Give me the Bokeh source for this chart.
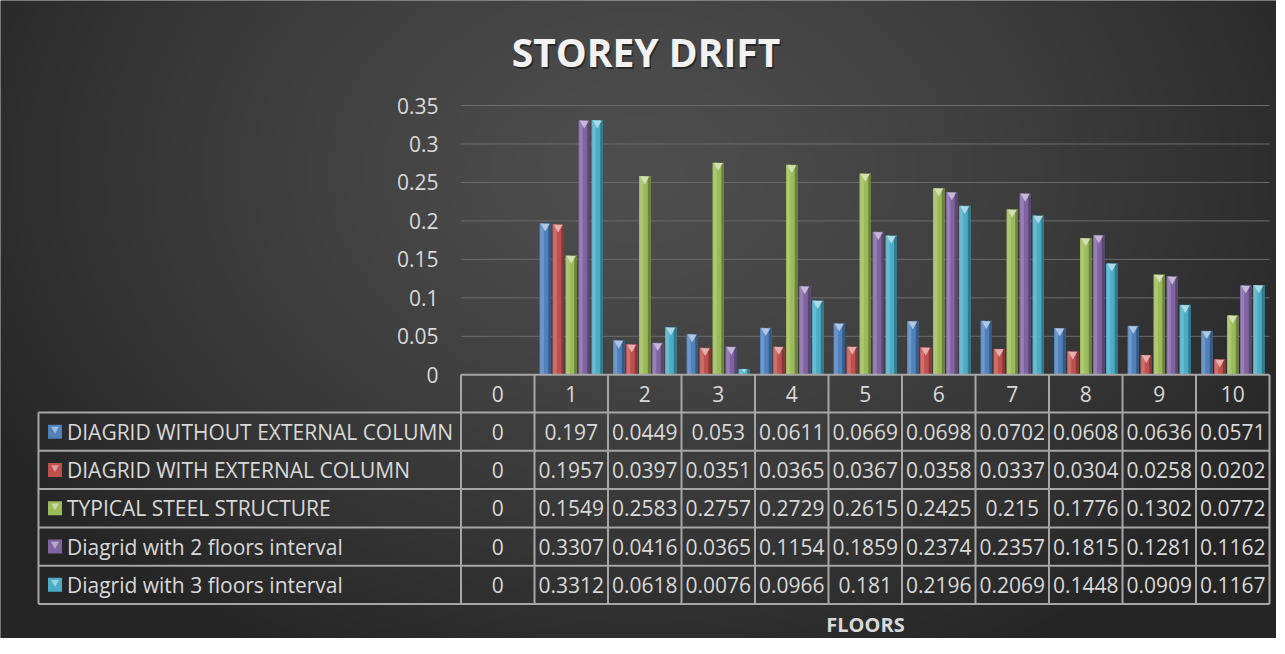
import numpy as np
from bokeh.plotting import figure
from bokeh.models import Range1d
from bokeh.embed import file_html
from bokeh.resources import INLINE
from bokeh.core.properties import value

# ---------------- data ----------------
floors = ["0", "1", "2", "3", "4", "5", "6", "7", "8", "9", "10"]
series_names = [
    "DIAGRID WITHOUT EXTERNAL COLUMN",
    "DIAGRID WITH EXTERNAL COLUMN",
    "TYPICAL STEEL STRUCTURE",
    "Diagrid with 2 floors interval",
    "Diagrid with 3 floors interval",
]
without_ext_col = [0, 0.197, 0.0449, 0.053, 0.0611, 0.0669, 0.0698, 0.0702, 0.0608, 0.0636, 0.0571]
with_ext_col = [0, 0.1957, 0.0397, 0.0351, 0.0365, 0.0367, 0.0358, 0.0337, 0.0304, 0.0258, 0.0202]
typical_steel = [0, 0.1549, 0.2583, 0.2757, 0.2729, 0.2615, 0.2425, 0.215, 0.1776, 0.1302, 0.0772]
diagrid_2_floors = [0, 0.3307, 0.0416, 0.0365, 0.1154, 0.1859, 0.2374, 0.2357, 0.1815, 0.1281, 0.1162]
diagrid_3_floors = [0, 0.3312, 0.0618, 0.0076, 0.0966, 0.181, 0.2196, 0.2069, 0.1448, 0.0909, 0.1167]
y_ticks = [0, 0.05, 0.1, 0.15, 0.2, 0.25, 0.3, 0.35]
y_tick_labels = ["0", "0.05", "0.1", "0.15", "0.2", "0.25", "0.3", "0.35"]
title_text = "STOREY DRIFT"
x_title = "FLOORS"

series = [without_ext_col, with_ext_col, typical_steel, diagrid_2_floors, diagrid_3_floors]
colors = ["#4F81BD", "#C0504D", "#9BBB59", "#8064A2", "#4BACC6"]

# ---------------- layout ----------------
W, H = 1276, 638
PX = 73.5      # pixels per category
PY = 769.4     # pixels per y unit
x0 = -0.5 - 460.5 / PX
x1 = x0 + W / PX
y1 = 374.3 / PY
y0 = y1 - H / PY


def X(rx):
    return x0 + rx / PX


def Y(ry):
    return y1 - ry / PY


def mix(hexc, other, t):
    c = [int(hexc[i:i + 2], 16) for i in (1, 3, 5)]
    o = [int(other[i:i + 2], 16) for i in (1, 3, 5)]
    m = [round(a + (b - a) * t) for a, b in zip(c, o)]
    return "#%02x%02x%02x" % tuple(m)


FONT = value("Open Sans")
TXT = "#d9d9d9"

p = figure(width=W, height=H, x_range=Range1d(x0, x1), y_range=Range1d(y0, y1),
           output_backend="svg", toolbar_location=None, min_border=0,
           x_axis_type=None, y_axis_type=None)
p.outline_line_color = None
p.background_fill_color = "#2a2a2a"
p.border_fill_color = "#2a2a2a"

# background radial gradient
hh, ww = H // 2, W // 2
cols = np.arange(ww) * 2 + 1
rows = np.arange(hh) * 2 + 1
RX, RY = np.meshgrid(cols, rows)
d = np.sqrt(((RX - 640) / 760.0) ** 2 + ((RY - 170) / 560.0) ** 2)
d = np.clip(d, 0, 1)
v = 0x25 + (0x4e - 0x25) * (1 - d ** 1.3)
img = np.empty((hh, ww), dtype=np.uint32)
view = img.view(dtype=np.uint8).reshape((hh, ww, 4))
view[..., 0] = v
view[..., 1] = v
view[..., 2] = v
view[..., 3] = 255
p.image_rgba(image=[img[::-1]], x=x0, y=y0, dw=x1 - x0, dh=y1 - y0)

# gridlines
gt = [t for t in y_ticks if t > 0]
p.segment(x0=[-0.5] * len(gt), x1=[len(floors) - 0.5] * len(gt), y0=gt, y1=gt,
          line_color="#6c6c6c", line_width=1)

# y tick labels
p.text(x=[X(438)] * len(y_ticks), y=y_ticks, text=y_tick_labels, text_font=FONT,
       text_font_size="21px", text_color=TXT, text_align="right", text_baseline="middle")

# bars
nser = len(series)
pitch = 13.0 / PX
bw = 11.5 / PX
xs_base = list(range(len(floors)))
for i, (vals, col) in enumerate(zip(series, colors)):
    xs = [k + (i - (nser - 1) / 2) * pitch for k in xs_base]
    p.vbar(x=xs, top=vals, bottom=0, width=bw, fill_color=col, line_color=None)
    # left highlight
    p.vbar(x=[x - bw * 0.28 for x in xs], top=vals, bottom=0, width=bw * 0.3,
           fill_color=mix(col, "#ffffff", 0.18), line_color=None)
    # right shadow
    p.vbar(x=[x + bw * 0.38 for x in xs], top=vals, bottom=0, width=bw * 0.24,
           fill_color=mix(col, "#000000", 0.3), line_color=None)
    # top cap
    capx = [x for x, vv in zip(xs, vals) if vv * PY > 8]
    capy = [vv - 3.0 / PY for vv in vals if vv * PY > 8]
    p.scatter(x=capx, y=capy, marker="inverted_triangle", size=9,
              fill_color=mix(col, "#ffffff", 0.55), line_color=None)
    smx = [x for x, vv in zip(xs, vals) if 0 < vv * PY <= 8]
    smy = [vv - 1.5 / PY for vv in vals if 0 < vv * PY <= 8]
    p.scatter(x=smx, y=smy, marker="inverted_triangle", size=5,
              fill_color=mix(col, "#ffffff", 0.55), line_color=None)

# data table
LC = "#a6a6a6"
LW = 2
hdr_top = 374.3
hdr_bot = 412.0
row_h = 38.3
row_edges = [hdr_bot + k * row_h for k in range(nser + 1)]
left_ref = 38.0
ncat = len(floors)
# horizontal lines
p.segment(x0=[-0.5], x1=[ncat - 0.5], y0=[0], y1=[0], line_color=LC, line_width=LW)
p.segment(x0=[X(left_ref)] * len(row_edges), x1=[ncat - 0.5] * len(row_edges),
          y0=[Y(r) for r in row_edges], y1=[Y(r) for r in row_edges], line_color=LC, line_width=LW)
# vertical lines
vx = [k - 0.5 for k in range(ncat + 1)]
p.segment(x0=vx, x1=vx, y0=[0] * len(vx), y1=[Y(row_edges[-1])] * len(vx), line_color=LC, line_width=LW)
p.segment(x0=[X(left_ref)], x1=[X(left_ref)], y0=[Y(row_edges[0])], y1=[Y(row_edges[-1])],
          line_color=LC, line_width=LW)

# header labels
hc = (hdr_top + hdr_bot) / 2
p.text(x=xs_base, y=[Y(hc)] * ncat, text=floors, text_font=FONT, text_font_size="21px",
       text_color=TXT, text_align="center", text_baseline="middle")

# rows
for i, (vals, col, name) in enumerate(zip(series, colors, series_names)):
    rc = (row_edges[i] + row_edges[i + 1]) / 2
    p.text(x=xs_base, y=[Y(rc)] * ncat, text=[f"{vv:g}" for vv in vals], text_font=FONT,
           text_font_size="21px", text_color=TXT, text_align="center", text_baseline="middle")
    p.text(x=[X(66.5)], y=[Y(rc)], text=[name], text_font=FONT, text_font_size="21px",
           text_color=TXT, text_align="left", text_baseline="middle")
    p.scatter(x=[X(54.5)], y=[Y(rc)], marker="square", size=14, fill_color=col, line_color=None)
    p.scatter(x=[X(54.5)], y=[Y(rc - 2.5)], marker="inverted_triangle", size=8,
              fill_color=mix(col, "#ffffff", 0.45), line_color=None)

# title with shadow
p.text(x=[X(645.5)], y=[Y(51)], text=[title_text], text_font=FONT, text_font_style="bold",
       text_font_size="39px", text_color="#000000", text_alpha=0.45, x_offset=1.5, y_offset=2,
       text_align="center", text_baseline="middle")
p.text(x=[X(645.5)], y=[Y(51)], text=[title_text], text_font=FONT, text_font_style="bold",
       text_font_size="39px", text_color="#f2f2f2", text_align="center", text_baseline="middle")

# x axis title
p.text(x=[X(865)], y=[Y(623.5)], text=[x_title], text_font=FONT, text_font_style="bold",
       text_font_size="20px", text_color=TXT, text_align="center", text_baseline="middle")

open("out.html", "w").write(file_html(p, INLINE))
